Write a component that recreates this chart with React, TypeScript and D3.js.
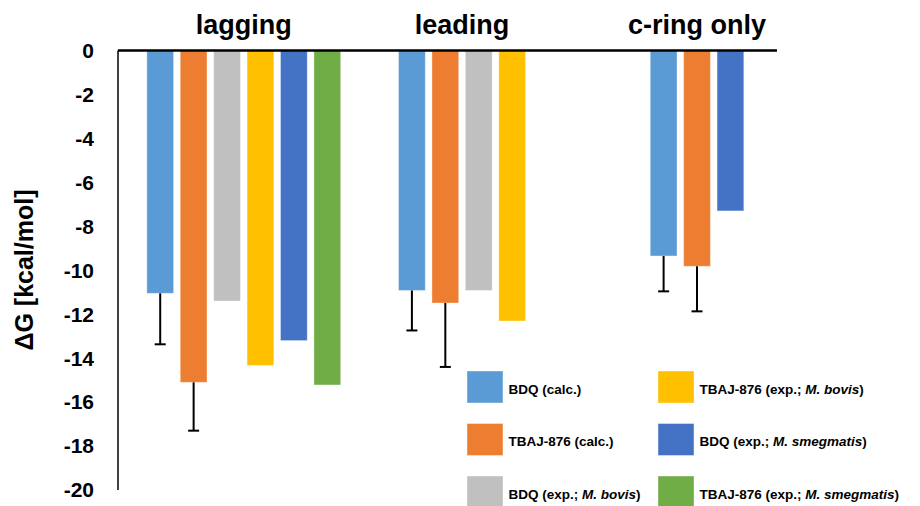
import React from "react";
import * as d3 from "d3";

const groups = ["lagging", "leading", "c-ring only"];

const seriesNames = [
  "BDQ (calc.)",
  "TBAJ-876 (calc.)",
  "BDQ (exp.; M. bovis)",
  "TBAJ-876 (exp.; M. bovis)",
  "BDQ (exp.; M. smegmatis)",
  "TBAJ-876 (exp.; M. smegmatis)",
];

const seriesColors = ["#5B9BD5", "#ED7D31", "#BFC0BF", "#FFC000", "#4472C4", "#70AD47"];

// per group: series index, value, error (null = no error bar)
const laggingBars = [
  { s: 0, v: -11.05, e: 2.32 },
  { s: 1, v: -15.1, e: 2.2 },
  { s: 2, v: -11.4, e: null },
  { s: 3, v: -14.33, e: null },
  { s: 4, v: -13.2, e: null },
  { s: 5, v: -15.22, e: null },
];
const leadingBars = [
  { s: 0, v: -10.92, e: 1.82 },
  { s: 1, v: -11.49, e: 2.91 },
  { s: 2, v: -10.92, e: null },
  { s: 3, v: -12.31, e: null },
];
const cringBars = [
  { s: 0, v: -9.35, e: 1.61 },
  { s: 1, v: -9.82, e: 2.05 },
  { s: 4, v: -7.3, e: null },
];
const groupBars = [laggingBars, leadingBars, cringBars];

const yTicks = [0, -2, -4, -6, -8, -10, -12, -14, -16, -18, -20];

// legend order: column-major, 3 rows x 2 columns
const legendOrder = [0, 1, 2, 3, 4, 5];

const renderName = (name: string) => {
  const m = name.match(/^(.*;\s)(M\. \w+)(\))$/);
  if (!m) return name;
  return (
    <>
      {m[1]}
      <tspan fontStyle="italic">{m[2]}</tspan>
      {m[3]}
    </>
  );
};

export default function App() {
  const width = 920;
  const height = 506;
  const axisX = 118;
  const font = "'Liberation Sans', Arial, sans-serif";

  const y = d3.scaleLinear().domain([0, -20]).range([50.5, 490]);

  const x = d3
    .scaleBand<string>()
    .domain(groups)
    .range([axisX, axisX + 3 * 251.7])
    .paddingInner(0)
    .paddingOuter(0);

  const slot = d3.scaleBand<number>().domain(d3.range(6)).range([25.5, 25.5 + 200.5]).paddingInner(0.2).paddingOuter(0.1);
  const bw = slot.bandwidth();

  return (
    <svg width={width} height={height} style={{ position: "absolute", left: 0, top: 0 }} fontFamily={font}>
      <rect width={width} height={height} fill="#fff" />
      {groupBars.map((bars, gi) => {
        const gx = x(groups[gi])!;
        const x0 = gx + slot(0)!;
        const x1 = gx + slot(bars.length - 1)! + bw;
        return (
          <g key={groups[gi]}>
            {bars.map((b, i) => {
              const bx = gx + slot(i)!;
              return (
                <g key={i}>
                  <rect
                    x={bx}
                    y={y(0)}
                    width={bw}
                    height={y(b.v) - y(0)}
                    fill={seriesColors[b.s]}
                    stroke="#fff"
                    strokeOpacity={0.35}
                    strokeWidth={1}
                  />
                  {b.e !== null && (
                    <g stroke="#000" strokeWidth={2}>
                      <line x1={bx + bw / 2} x2={bx + bw / 2} y1={y(b.v)} y2={y(b.v - b.e)} />
                      <line x1={bx + bw / 2 - 5.5} x2={bx + bw / 2 + 5.5} y1={y(b.v - b.e)} y2={y(b.v - b.e)} />
                    </g>
                  )}
                </g>
              );
            })}
            <text x={(x0 + x1) / 2} y={34} textAnchor="middle" fontSize={27} fontWeight="bold" fill="#000">
              {groups[gi]}
            </text>
          </g>
        );
      })}

      <line x1={axisX} x2={777} y1={y(0)} y2={y(0)} stroke="#000" strokeWidth={2.5} />
      <line x1={axisX} x2={axisX} y1={y(0)} y2={y(-20)} stroke="#000" strokeWidth={1.5} />

      {yTicks.map((t) => (
        <text key={t} x={94} y={y(t)} dy="0.35em" textAnchor="end" fontSize={21} fontWeight="bold" fill="#000">
          {t}
        </text>
      ))}

      <text
        transform={`translate(33,270) rotate(-90)`}
        textAnchor="middle"
        fontSize={25}
        fontWeight="bold"
        fill="#000"
      >
        ΔG [kcal/mol]
      </text>

      {legendOrder.map((s, i) => {
        const col = Math.floor(i / 3);
        const row = i % 3;
        const lx = col === 0 ? 467 : 658;
        const ly = 371 + row * 52.5;
        return (
          <g key={s}>
            <rect x={lx} y={ly} width={36} height={32} fill={seriesColors[s]} stroke="#fff" strokeOpacity={0.4} />
            <text x={lx + 41.5} y={ly + 18} dy="0.35em" fontSize={13.5} fontWeight="bold" fill="#000">
              {renderName(seriesNames[s])}
            </text>
          </g>
        );
      })}
    </svg>
  );
}
